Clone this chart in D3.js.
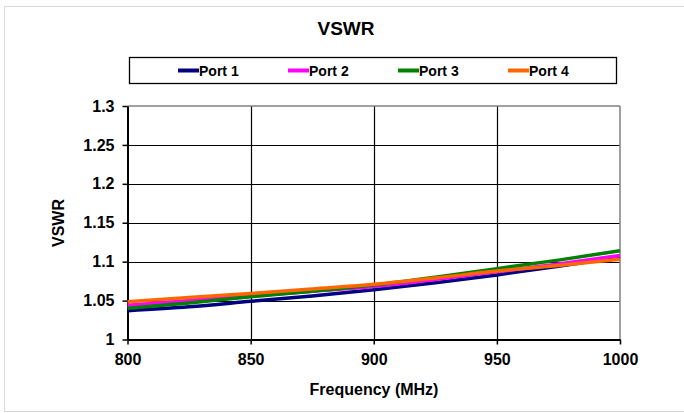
<!DOCTYPE html>
<html><head><meta charset="utf-8">
<script src="https://cdn.jsdelivr.net/npm/d3@7"></script>
<style>
body{margin:0;background:#fff;}
text{font-family:"Liberation Sans",Arial,sans-serif;font-weight:bold;fill:#000;}
</style></head>
<body><svg id="c" width="684" height="413"></svg>
<script>
const freqs = [800, 825, 850, 875, 900, 925, 950, 975, 1000];
const port1 = [1.037, 1.042, 1.049, 1.056, 1.064, 1.073, 1.083, 1.094, 1.106];
const port2 = [1.044, 1.050, 1.056, 1.062, 1.068, 1.077, 1.087, 1.097, 1.108];
const port3 = [1.040, 1.047, 1.055, 1.062, 1.070, 1.080, 1.091, 1.102, 1.114];
const port4 = [1.0485, 1.054, 1.059, 1.065, 1.071, 1.079, 1.088, 1.095, 1.103];
const seriesNames = ["Port 1", "Port 2", "Port 3", "Port 4"];
const seriesColors = ["#000080", "#FF00FF", "#008000", "#FF6600"];
const xTicks = [800, 850, 900, 950, 1000];
const yTicks = [1, 1.05, 1.1, 1.15, 1.2, 1.25, 1.3];

const series = [port1, port2, port3, port4];
const svg = d3.select("#c");
const L = 127.5, R = 620, T = 106, B = 339.5;
const x = d3.scaleLinear().domain([800, 1000]).range([L, R]);
const y = d3.scaleLinear().domain([1, 1.3]).range([B, T]);

// outer frame
svg.append("rect").attr("x", 4.5).attr("y", 6.5).attr("width", 684).attr("height", 405)
  .attr("fill", "#fff").attr("stroke", "#d9d9d9").attr("stroke-width", 1);

// title
svg.append("text").attr("x", 346).attr("y", 35).attr("text-anchor", "middle")
  .style("font-size", "19px").text("VSWR");

// legend
const lg = svg.append("g");
lg.append("rect").attr("x", 129.5).attr("y", 57.5).attr("width", 487).attr("height", 26)
  .attr("fill", "#fff").attr("stroke", "#000").attr("stroke-width", 1.3);
seriesNames.forEach((n, i) => {
  const lx = 178 + i * 110;
  lg.append("line").attr("x1", lx).attr("x2", lx + 21).attr("y1", 70.5).attr("y2", 70.5)
    .attr("stroke", seriesColors[i]).attr("stroke-width", 4);
  lg.append("text").attr("x", lx + 21).attr("y", 76).style("font-size", "14px").text(n);
});

// gridlines
svg.append("g").selectAll("line").data(yTicks.slice(1, -1)).join("line")
  .attr("x1", L).attr("x2", R).attr("y1", d => Math.round(y(d)) + 0.5).attr("y2", d => Math.round(y(d)) + 0.5)
  .attr("stroke", "#000").attr("stroke-width", 1.2);
svg.append("g").selectAll("line").data(xTicks.slice(1, -1)).join("line")
  .attr("y1", T).attr("y2", B).attr("x1", d => Math.round(x(d)) + 0.5).attr("x2", d => Math.round(x(d)) + 0.5)
  .attr("stroke", "#000").attr("stroke-width", 1.2);
// top & right border gray
svg.append("line").attr("x1", L).attr("x2", R).attr("y1", T).attr("y2", T).attr("stroke", "#808080").attr("stroke-width", 1.5);
svg.append("line").attr("x1", R).attr("x2", R).attr("y1", T).attr("y2", B).attr("stroke", "#808080").attr("stroke-width", 1.5);

// axes
const xa = svg.append("g").attr("transform", `translate(0,${B})`)
  .call(d3.axisBottom(x).tickValues(xTicks).tickSize(5).tickSizeOuter(0).tickFormat(d3.format("d")));
const ya = svg.append("g").attr("transform", `translate(${L},0)`)
  .call(d3.axisLeft(y).tickValues(yTicks).tickSize(5).tickSizeOuter(0).tickFormat(d => String(+d.toFixed(2))));
[xa, ya].forEach(a => {
  a.select(".domain").attr("stroke", "#000").attr("stroke-width", 2);
  a.selectAll(".tick line").attr("stroke", "#000").attr("stroke-width", 1.5);
  a.selectAll("text").style("font-size", "16px").attr("fill", "#000")
   .style("font-family", '"Liberation Sans",Arial,sans-serif').style("font-weight", "bold");
});
xa.selectAll("text").attr("y", 14).attr("dy", "0.71em");
ya.selectAll("text").attr("x", -13);

// lines
const line = d3.line().x((d, i) => x(freqs[i])).y(d => y(d)).curve(d3.curveMonotoneX);
series.forEach((s, i) => {
  svg.append("path").datum(s).attr("d", line).attr("fill", "none")
    .attr("stroke", seriesColors[i]).attr("stroke-width", 3.5);
});

// axis titles
svg.append("text").attr("x", 374).attr("y", 395).attr("text-anchor", "middle")
  .style("font-size", "16px").text("Frequency (MHz)");
svg.append("text").attr("transform", "translate(64,223) rotate(-90)").attr("text-anchor", "middle")
  .style("font-size", "16px").text("VSWR");
</script></body></html>
